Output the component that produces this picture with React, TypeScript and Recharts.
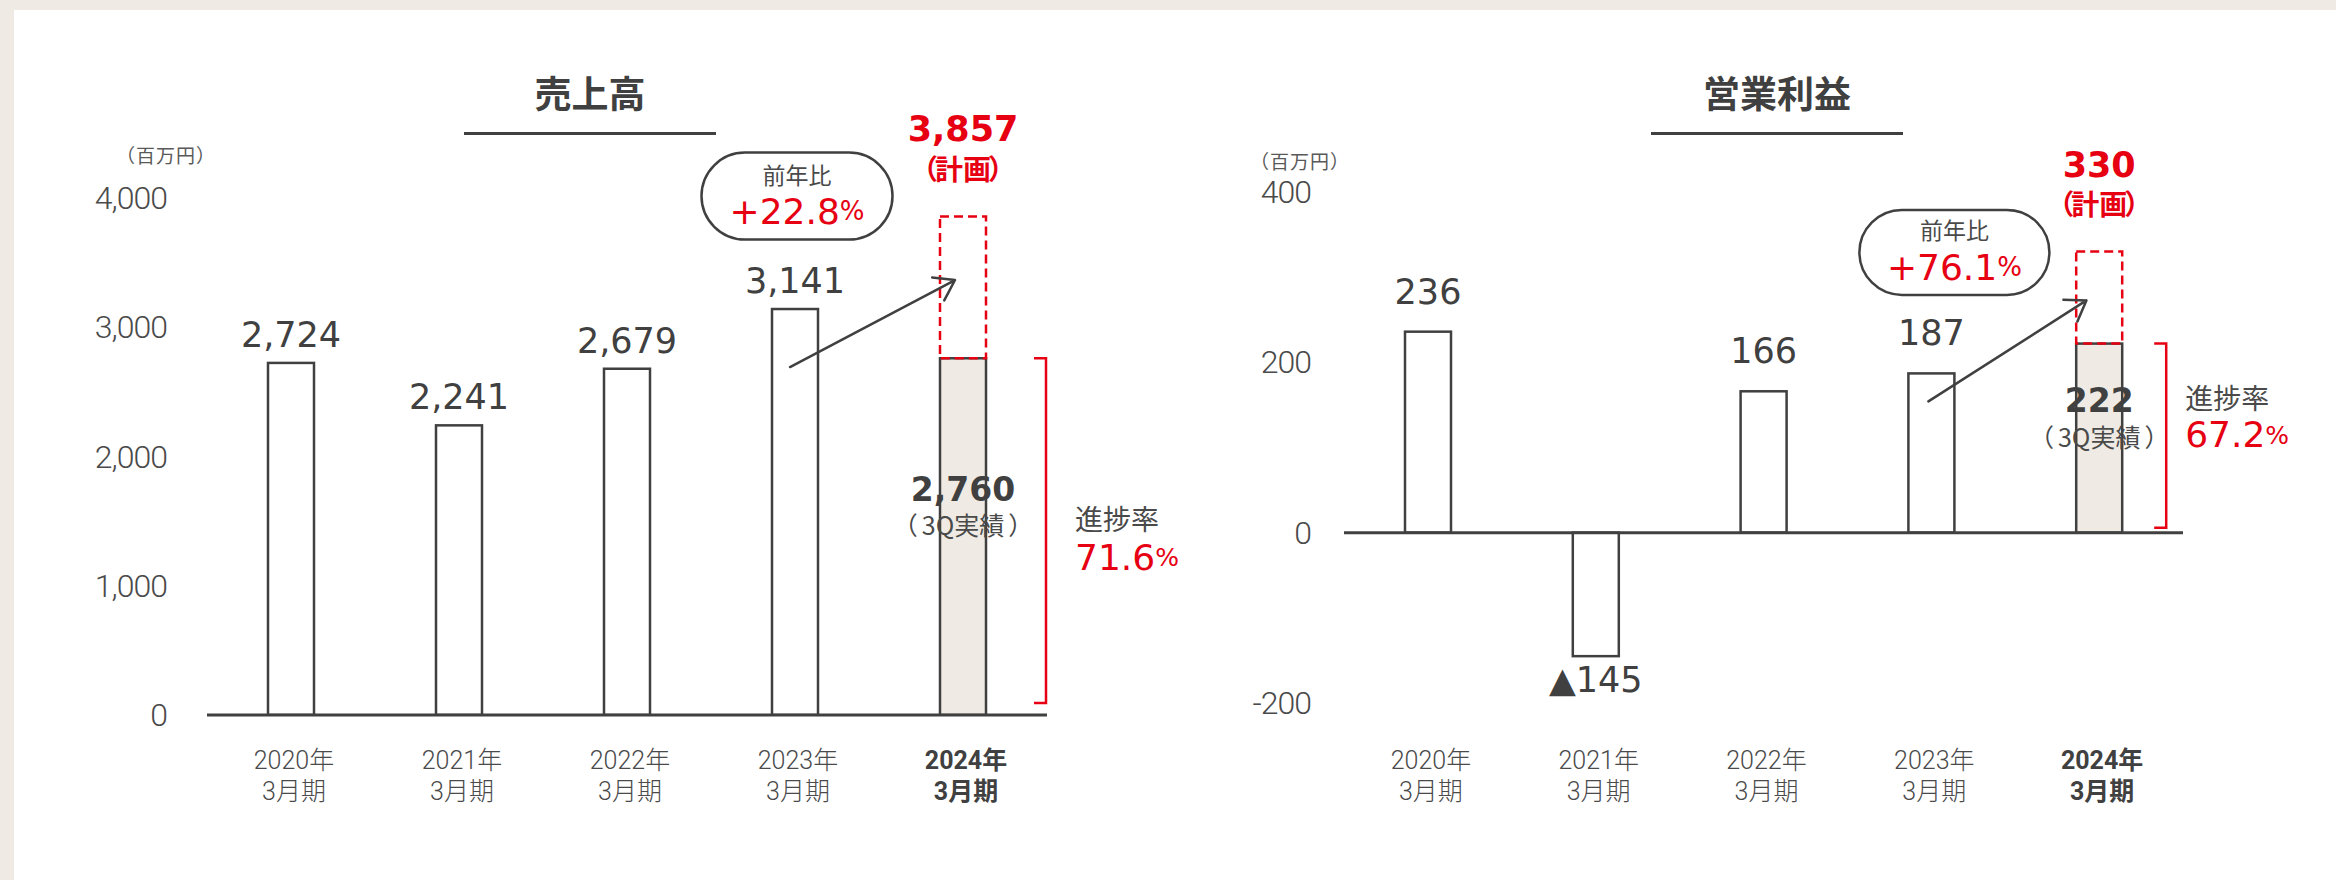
import React from 'react';
import { BarChart, Bar, XAxis, YAxis, ReferenceLine, LabelList } from 'recharts';

// fiscal years on the x axis (second line of each label is the same)
const fiscalYears = ['2020年', '2021年', '2022年', '2023年', '2024年'];
const periodSuffix = '3月期';

// 売上高 (百万円)
const salesActual = [2724, 2241, 2679, 3141, 2760];
const salesPlan = 3857;
const salesTicks = [0, 1000, 2000, 3000, 4000];
const salesYoy = '+22.8';
const salesProgress = '71.6';

// 営業利益 (百万円)
const profitActual = [236, -145, 166, 187, 222];
const profitPlan = 330;
const profitTicks = [-200, 0, 200, 400];
const profitYoy = '+76.1';
const profitProgress = '67.2';

const DARK = '#404040';
const TEXT = '#4a4a4a';
const SUB = '#595959';
const RED = '#e60012';
const BEIGE = '#efebe4';

const NUM_FONT = '"DejaVu Sans", "Noto Sans CJK JP", sans-serif';
const LIGHT_FONT = 'Roboto, "Noto Sans CJK JP", sans-serif';
const JP_FONT = '"Noto Sans CJK JP", "Noto Sans", sans-serif';

const W = 1200;
const H = 880;

const fmt = (v: number) =>
  v < 0 ? '▲' + Math.abs(v).toLocaleString('en-US') : v.toLocaleString('en-US');

// label viewBox -> normalised box (negative bars come with negative height)
const boxOf = (p: any) => {
  const vb = p.viewBox ?? p;
  const x = Number(vb.x);
  const w = Number(vb.width);
  const y1 = Number(vb.y);
  const y2 = y1 + Number(vb.height);
  return { x, w, cx: x + w / 2, top: Math.min(y1, y2), bottom: Math.max(y1, y2) };
};

// bracketed caption, brackets spaced out a bit like the slide
const Bracketed = ({ text, gap }: { text: string; gap: number }) => (
  <>
    <tspan>（</tspan>
    <tspan dx={gap}>{text}</tspan>
    <tspan dx={gap}>）</tspan>
  </>
);

const Arrow = ({ x1, y1, x2, y2 }: { x1: number; y1: number; x2: number; y2: number }) => {
  const a = Math.atan2(y2 - y1, x2 - x1);
  const len = 23;
  const s = 0.6;
  const h1 = `${x2 - len * Math.cos(a - s)},${y2 - len * Math.sin(a - s)}`;
  const h2 = `${x2 - len * Math.cos(a + s)},${y2 - len * Math.sin(a + s)}`;
  return (
    <path
      d={`M${x1},${y1}L${x2},${y2}M${h1}L${x2},${y2}L${h2}`}
      stroke={DARK}
      strokeWidth={2.5}
      fill="none"
      strokeLinecap="round"
      strokeLinejoin="round"
    />
  );
};

interface ChartCfg {
  left: number;
  titleX: number;
  unitX: number;
  unitY: number;
  margin: { top: number; right: number; bottom: number; left: number };
  yAxisWidth: number;
  xAxisHeight: number;
  yTickGap: number;
  catDy: [number, number];
  valueDy: number;
  negDy: number;
  innerDy: [number, number];
  planDy: [number, number];
  bracketDx: number;
  bracketGap: number;
  progressDx: number;
  progressDy: [number, number];
  pill: { dx: number; dy: number; w: number; h: number; textDy: [number, number] };
  arrow: { sx: number; sy: number; ex: number; ey: number };
}

const salesCfg: ChartCfg = {
  left: 0,
  titleX: 590,
  unitX: 166,
  unitY: 155,
  margin: { top: 198, right: 153, bottom: 0, left: 0 },
  yAxisWidth: 207,
  xAxisHeight: 165,
  yTickGap: 40,
  catDy: [45, 76],
  valueDy: -28,
  negDy: 24,
  innerDy: [131, 166],
  planDy: [-87, -48],
  bracketDx: 83,
  bracketGap: 12,
  progressDx: 112,
  progressDy: [160, 199],
  pill: { dx: 2, dy: -113, w: 191, h: 87, textDy: [-22, 15] },
  arrow: { sx: -5, sy: 58, ex: 160, ey: -29 },
};

const profitCfg: ChartCfg = {
  left: 1168,
  titleX: 609,
  unitX: 132,
  unitY: 161,
  margin: { top: 192, right: 185, bottom: 0, left: 0 },
  yAxisWidth: 176,
  xAxisHeight: 177,
  yTickGap: 33,
  catDy: [57, 88],
  valueDy: -40,
  negDy: 24,
  innerDy: [57, 92],
  planDy: [-87, -49],
  bracketDx: 67,
  bracketGap: 5,
  progressDx: 86,
  progressDy: [53, 91],
  pill: { dx: 23, dy: -121, w: 190, h: 85, textDy: [-23, 15] },
  arrow: { sx: -3, sy: 28, ex: 155, ey: -73 },
};

interface ResultChartProps {
  cfg: ChartCfg;
  title: string;
  actual: number[];
  plan: number;
  ticks: number[];
  yoy: string;
  progress: string;
}

const ResultChart: React.FC<ResultChartProps> = ({ cfg, title, actual, plan, ticks, yoy, progress }) => {
  const last = actual.length - 1;
  const data = fiscalYears.map((year, i) => ({
    year,
    actual: actual[i],
    rest: i === last ? plan - actual[i] : 0,
    planTotal: i === last ? plan : null,
  }));

  const CategoryTick = (p: any) => {
    const bold = p.payload?.index === last || p.payload?.value === fiscalYears[last];
    const common = {
      x: p.x + 3,
      textAnchor: 'middle' as const,
      dominantBaseline: 'central' as const,
      fontFamily: LIGHT_FONT,
      fontSize: 25,
      fontWeight: bold ? 700 : 300,
      fill: bold ? DARK : TEXT,
    };
    return (
      <g>
        <text {...common} y={p.y + cfg.catDy[0]}>
          {p.payload?.value}
        </text>
        <text {...common} y={p.y + cfg.catDy[1]}>
          {periodSuffix}
        </text>
      </g>
    );
  };

  const ValueTick = (p: any) => (
    <text
      x={p.x}
      y={p.y}
      textAnchor="end"
      dominantBaseline="central"
      fontFamily={LIGHT_FONT}
      fontWeight={300}
      fontSize={32}
      letterSpacing={-1}
      fill={TEXT}
    >
      {Number(p.payload?.value).toLocaleString('en-US')}
    </text>
  );

  const actualLabel = (p: any) => {
    const b = boxOf(p);
    const v = Number(p.value);
    if (p.index === last) {
      const bx = b.cx + cfg.bracketDx;
      const bottom = b.bottom - cfg.bracketGap;
      const tx = b.cx + cfg.progressDx;
      return (
        <g>
          <text
            x={b.cx}
            y={b.top + cfg.innerDy[0]}
            textAnchor="middle"
            dominantBaseline="central"
            fontFamily={NUM_FONT}
            fontWeight={700}
            fontSize={33}
            fill={DARK}
          >
            {fmt(v)}
          </text>
          <text
            x={b.cx}
            y={b.top + cfg.innerDy[1]}
            textAnchor="middle"
            dominantBaseline="central"
            fontFamily={JP_FONT}
            fontSize={25}
            fill={TEXT}
          >
            <Bracketed text="3Q実績" gap={4} />
          </text>
          <path
            d={`M${bx - 12},${b.top}H${bx}V${bottom}H${bx - 12}`}
            stroke={RED}
            strokeWidth={2.5}
            fill="none"
          />
          <text
            x={tx}
            y={b.top + cfg.progressDy[0]}
            dominantBaseline="central"
            fontFamily={JP_FONT}
            fontSize={28}
            fill={TEXT}
          >
            進捗率
          </text>
          <text
            x={tx}
            y={b.top + cfg.progressDy[1]}
            dominantBaseline="central"
            fontFamily={NUM_FONT}
            fontSize={36}
            fill={RED}
          >
            {progress}
            <tspan fontSize={25}>%</tspan>
          </text>
        </g>
      );
    }
    const ty = v < 0 ? b.bottom + cfg.negDy : b.top + cfg.valueDy;
    const pc = { x: b.cx + cfg.pill.dx, y: b.top + cfg.pill.dy };
    return (
      <g>
        <text
          x={b.cx}
          y={ty}
          textAnchor="middle"
          dominantBaseline="central"
          fontFamily={NUM_FONT}
          fontSize={35}
          fill={DARK}
        >
          {fmt(v)}
        </text>
        {p.index === last - 1 && (
          <g>
            <rect
              x={pc.x - cfg.pill.w / 2}
              y={pc.y - cfg.pill.h / 2}
              width={cfg.pill.w}
              height={cfg.pill.h}
              rx={cfg.pill.h / 2}
              fill="#fff"
              stroke={DARK}
              strokeWidth={2.5}
            />
            <text
              x={pc.x}
              y={pc.y + cfg.pill.textDy[0]}
              textAnchor="middle"
              dominantBaseline="central"
              fontFamily={JP_FONT}
              fontSize={23}
              fill={TEXT}
            >
              前年比
            </text>
            <text
              x={pc.x}
              y={pc.y + cfg.pill.textDy[1]}
              textAnchor="middle"
              dominantBaseline="central"
              fontFamily={NUM_FONT}
              fontSize={36}
              fill={RED}
            >
              {yoy}
              <tspan fontSize={26}>%</tspan>
            </text>
            <Arrow
              x1={b.cx + cfg.arrow.sx}
              y1={b.top + cfg.arrow.sy}
              x2={b.cx + cfg.arrow.ex}
              y2={b.top + cfg.arrow.ey}
            />
          </g>
        )}
      </g>
    );
  };

  const planLabel = (p: any) => {
    if (p.value == null) return null;
    const b = boxOf(p);
    return (
      <g>
        <text
          x={b.cx}
          y={b.top + cfg.planDy[0]}
          textAnchor="middle"
          dominantBaseline="central"
          fontFamily={NUM_FONT}
          fontWeight={700}
          fontSize={35}
          fill={RED}
        >
          {fmt(Number(p.value))}
        </text>
        <text
          x={b.cx}
          y={b.top + cfg.planDy[1]}
          textAnchor="middle"
          dominantBaseline="central"
          fontFamily={JP_FONT}
          fontWeight={700}
          fontSize={28}
          fill={RED}
        >
          <Bracketed text="計画" gap={-3} />
        </text>
      </g>
    );
  };

  const actualShape = (p: any) => {
    const h = Math.abs(Number(p.height));
    if (!h) return <g />;
    const y = Math.min(p.y, p.y + p.height);
    return (
      <rect
        x={p.x}
        y={y}
        width={p.width}
        height={h}
        fill={p.index === last ? BEIGE : '#fff'}
        stroke={DARK}
        strokeWidth={2.5}
      />
    );
  };

  const planShape = (p: any) => {
    const h = Math.abs(Number(p.height));
    if (!h) return <g />;
    const y = Math.min(p.y, p.y + p.height);
    return (
      <rect
        x={p.x}
        y={y}
        width={p.width}
        height={h}
        fill="none"
        stroke={RED}
        strokeWidth={2.5}
        strokeDasharray="9 5"
      />
    );
  };

  return (
    <div style={{ position: 'absolute', left: cfg.left, top: 0, width: W, height: H }}>
      <div
        style={{
          position: 'absolute',
          left: cfg.titleX - 150,
          top: 72,
          width: 300,
          textAlign: 'center',
          fontFamily: JP_FONT,
          fontWeight: 700,
          fontSize: 37,
          lineHeight: '40px',
          color: DARK,
        }}
      >
        {title}
      </div>
      <div
        style={{
          position: 'absolute',
          left: cfg.titleX - 126,
          top: 132,
          width: 252,
          height: 3,
          background: DARK,
        }}
      />
      <div
        style={{
          position: 'absolute',
          left: cfg.unitX - 70,
          top: cfg.unitY - 12,
          width: 140,
          textAlign: 'center',
          fontFamily: JP_FONT,
          fontSize: 19,
          letterSpacing: 1,
          lineHeight: '24px',
          color: SUB,
        }}
      >
        （百万円）
      </div>
      <div style={{ position: 'absolute', left: 0, top: 0 }}>
        <BarChart width={W} height={H} data={data} margin={cfg.margin} barSize={46}>
          <XAxis
            dataKey="year"
            height={cfg.xAxisHeight}
            axisLine={false}
            tickLine={false}
            tickSize={0}
            tickMargin={0}
            interval={0}
            tick={CategoryTick}
          />
          <YAxis
            type="number"
            width={cfg.yAxisWidth}
            domain={[ticks[0], ticks[ticks.length - 1]]}
            ticks={ticks}
            allowDataOverflow
            interval={0}
            axisLine={false}
            tickLine={false}
            tickSize={0}
            tickMargin={cfg.yTickGap}
            tick={ValueTick}
          />
          <Bar dataKey="actual" stackId="s" shape={actualShape} isAnimationActive={false}>
            <LabelList dataKey="actual" content={actualLabel} />
          </Bar>
          <Bar dataKey="rest" stackId="s" shape={planShape} isAnimationActive={false}>
            <LabelList dataKey="planTotal" content={planLabel} />
          </Bar>
          <ReferenceLine y={0} stroke={DARK} strokeWidth={3} />
        </BarChart>
      </div>
    </div>
  );
};

export default function App() {
  return (
    <div style={{ position: 'fixed', left: 0, top: 0, width: 2336, height: 880, background: BEIGE, overflow: 'hidden' }}>
      <div style={{ position: 'absolute', left: 14, top: 10, right: 0, bottom: 0, background: '#fff' }} />
      <ResultChart
        cfg={salesCfg}
        title="売上高"
        actual={salesActual}
        plan={salesPlan}
        ticks={salesTicks}
        yoy={salesYoy}
        progress={salesProgress}
      />
      <ResultChart
        cfg={profitCfg}
        title="営業利益"
        actual={profitActual}
        plan={profitPlan}
        ticks={profitTicks}
        yoy={profitYoy}
        progress={profitProgress}
      />
    </div>
  );
}
